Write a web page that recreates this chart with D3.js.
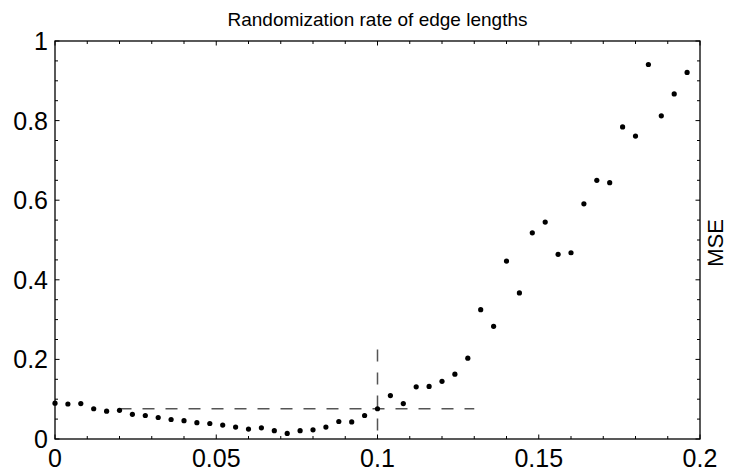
<!DOCTYPE html>
<html>
<head>
<meta charset="utf-8">
<script src="https://cdn.jsdelivr.net/npm/d3@7"></script>
<style>
  body { margin: 0; background: #fff; }
  text { font-family: "Liberation Sans", Arial, sans-serif; fill: #000; }
</style>
</head>
<body>
<script>
const width = 729;
const height = 472;

// randomization rate (x) and MSE (y)
const rates = d3.range(50).map(i => +(i * 0.004).toFixed(3));
const mse = [
  0.090, 0.088, 0.089, 0.076, 0.070, 0.072, 0.062, 0.059, 0.054, 0.049,
  0.046, 0.041, 0.039, 0.035, 0.030, 0.025, 0.028, 0.021, 0.014, 0.021,
  0.023, 0.030, 0.044, 0.043, 0.059, 0.076, 0.109, 0.089, 0.131, 0.132,
  0.145, 0.163, 0.203, 0.325, 0.283, 0.447, 0.367, 0.518, 0.545, 0.464,
  0.468, 0.591, 0.650, 0.644, 0.784, 0.761, 0.941, 0.812, 0.867, 0.921
];
const xTickLabels = ["0", "0.05", "0.1", "0.15", "0.2"];
const yTickLabels = ["0", "0.2", "0.4", "0.6", "0.8", "1"];
// guide lines
const hGuide = { x0: 0.02, x1: 0.13, y: 0.076 };
const vGuide = { x: 0.1, y0: 0, y1: 0.225 };

const margin = { top: 41, right: 29, bottom: 33, left: 55 };
const innerW = width - margin.left - margin.right;
const innerH = height - margin.top - margin.bottom;

const svg = d3.select("body")
  .append("svg")
  .attr("width", width)
  .attr("height", height);

const g = svg.append("g")
  .attr("transform", `translate(${margin.left},${margin.top})`);

const x = d3.scaleLinear().domain([0, 0.2]).range([0, innerW]);
const y = d3.scaleLinear().domain([0, 1]).range([innerH, 0]);

const xMinor = d3.range(0, 21).map(i => i * 0.01);
const yMinor = d3.range(0, 21).map(i => i * 0.05);
const isMajorX = v => Math.abs(v * 20 - Math.round(v * 20)) < 1e-6;
const isMajorY = v => Math.abs(v * 5 - Math.round(v * 5)) < 1e-6;

// frame
g.append("rect")
  .attr("width", innerW)
  .attr("height", innerH)
  .attr("fill", "none")
  .attr("stroke", "#000")
  .attr("stroke-width", 1.3);

// inward ticks on all four sides
const ticks = g.append("g").attr("stroke", "#000").attr("stroke-width", 1);
xMinor.forEach(v => {
  const len = isMajorX(v) ? 4.5 : 3;
  ticks.append("line").attr("x1", x(v)).attr("x2", x(v)).attr("y1", innerH).attr("y2", innerH - len);
  ticks.append("line").attr("x1", x(v)).attr("x2", x(v)).attr("y1", 0).attr("y2", len);
});
yMinor.forEach(v => {
  const len = isMajorY(v) ? 4.5 : 3;
  ticks.append("line").attr("y1", y(v)).attr("y2", y(v)).attr("x1", 0).attr("x2", len);
  ticks.append("line").attr("y1", y(v)).attr("y2", y(v)).attr("x1", innerW).attr("x2", innerW - len);
});

// tick labels
g.append("g").selectAll("text")
  .data(xTickLabels)
  .join("text")
  .attr("x", d => x(+d))
  .attr("y", innerH + 28)
  .attr("text-anchor", "middle")
  .attr("font-size", 25)
  .text(d => d);

g.append("g").selectAll("text")
  .data(yTickLabels)
  .join("text")
  .attr("x", -7)
  .attr("y", d => y(+d) + 9)
  .attr("text-anchor", "end")
  .attr("font-size", 25)
  .text(d => d);

// dashed guides
const guides = g.append("g")
  .attr("stroke", "#555")
  .attr("stroke-width", 1.5)
  .attr("stroke-dasharray", "12,11")
  .attr("fill", "none");
guides.append("line")
  .attr("x1", x(hGuide.x0)).attr("x2", x(hGuide.x1))
  .attr("y1", y(hGuide.y)).attr("y2", y(hGuide.y));
guides.append("line")
  .attr("x1", x(vGuide.x)).attr("x2", x(vGuide.x))
  .attr("y1", y(vGuide.y1)).attr("y2", y(vGuide.y0));

// points
g.append("g").selectAll("circle")
  .data(rates)
  .join("circle")
  .attr("cx", d => x(d))
  .attr("cy", (d, i) => y(mse[i]))
  .attr("r", 2.6)
  .attr("fill", "#000");

// title
svg.append("text")
  .attr("x", margin.left + innerW / 2)
  .attr("y", 26)
  .attr("text-anchor", "middle")
  .attr("font-size", 19)
  .text("Randomization rate of edge lengths");

// right-side y label
svg.append("text")
  .attr("transform", `translate(${width - 6},${margin.top + innerH / 2 + 3}) rotate(-90)`)
  .attr("text-anchor", "middle")
  .attr("font-size", 22)
  .text("MSE");
</script>
</body>
</html>
